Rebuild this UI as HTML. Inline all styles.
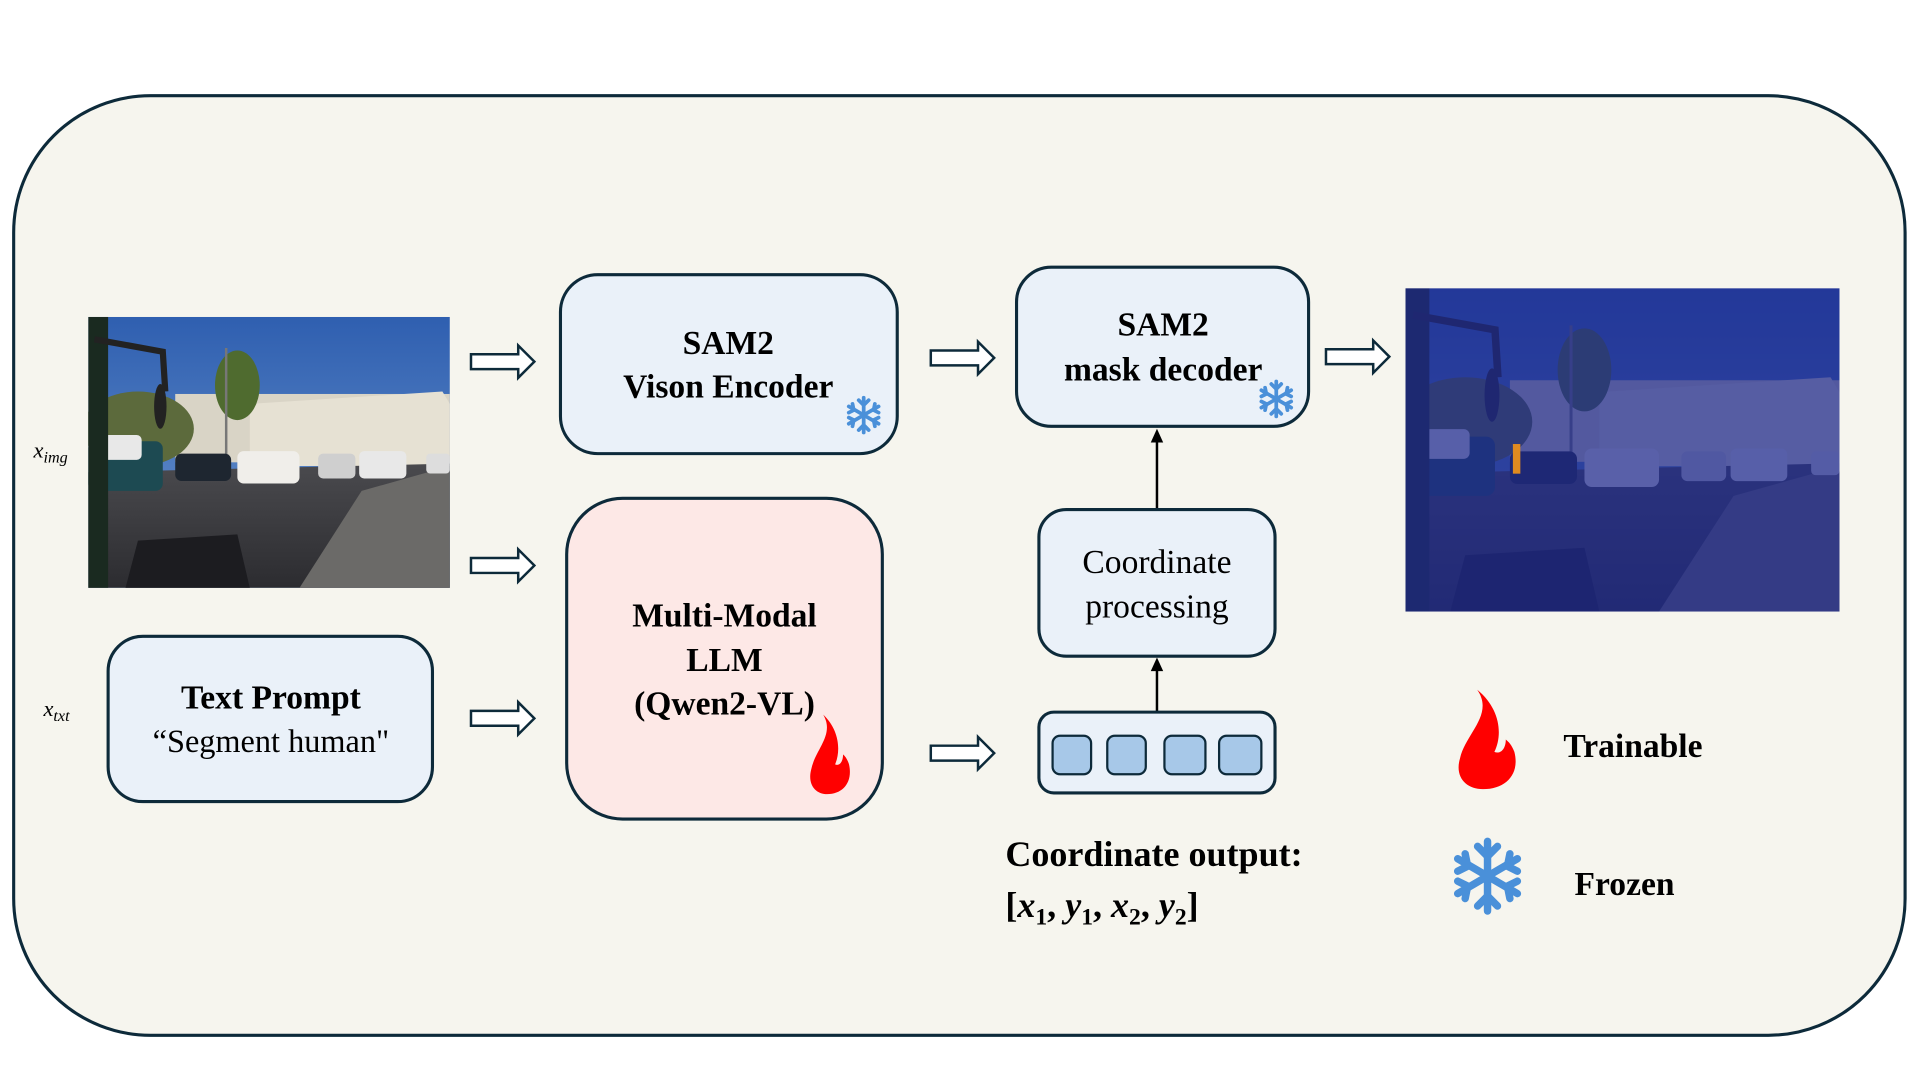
<!DOCTYPE html>
<html><head><meta charset="utf-8"><style>
html,body{margin:0;padding:0;background:#fff;}
svg{display:block;}
text{font-family:"Liberation Serif",serif;fill:#000;}
</style></head><body>
<svg width="1920" height="1080" viewBox="0 0 1545 869" preserveAspectRatio="none" xmlns="http://www.w3.org/2000/svg">
<defs>
<clipPath id="pc"><rect x="0" y="0" width="291" height="218"/></clipPath>
<linearGradient id="sky" x1="0" y1="0" x2="0" y2="1"><stop offset="0" stop-color="#2f5fb0"/><stop offset="1" stop-color="#6d97cf"/></linearGradient>
<linearGradient id="road" x1="0" y1="0" x2="0" y2="1"><stop offset="0" stop-color="#4a4a4e"/><stop offset="1" stop-color="#2c2c30"/></linearGradient>
<g id="photo" clip-path="url(#pc)">
  <rect x="0" y="0" width="291" height="218" fill="url(#sky)"/>
  <rect x="70" y="62" width="221" height="55" fill="#d9d4c6"/>
  <polygon points="130,70 285,60 291,70 291,120 130,120" fill="#e6e1d3"/>
  <ellipse cx="40" cy="90" rx="45" ry="30" fill="#5c6a3c"/>
  <ellipse cx="120" cy="55" rx="18" ry="28" fill="#4f6b2f"/>
  <rect x="110" y="25" width="2" height="90" fill="#777"/>
  <polygon points="0,125 291,118 291,218 0,218" fill="url(#road)"/>
  <polygon points="220,140 291,120 291,218 170,218" fill="#6b6a68"/>
  <rect x="120" y="108" width="50" height="26" rx="5" fill="#f0eeea"/>
  <rect x="70" y="110" width="45" height="22" rx="5" fill="#1e2630"/>
  <rect x="185" y="110" width="30" height="20" rx="4" fill="#cfcfcf"/>
  <rect x="218" y="108" width="38" height="22" rx="4" fill="#e8e8e8"/>
  <rect x="272" y="110" width="19" height="16" rx="3" fill="#ddd"/>
  <rect x="0" y="100" width="60" height="40" rx="6" fill="#1d4a52"/>
  <rect x="8" y="95" width="35" height="20" rx="4" fill="#e8e8e8"/>
  <rect x="0" y="0" width="16" height="218" fill="#1a2a20"/>
  <path d="M5 18 L60 28 L62 60" stroke="#222" stroke-width="5" fill="none"/>
  <ellipse cx="58" cy="72" rx="5" ry="18" fill="#222"/>
  <polygon points="40,180 120,175 130,218 30,218" fill="#1c1c20"/>
</g>
<g id="flake" stroke="#4a90d9" stroke-width="3" stroke-linecap="round" fill="none">
  <line x1="0" y1="-14" x2="0" y2="14"/>
  <line x1="-12" y1="-7" x2="12" y2="7"/>
  <line x1="-12" y1="7" x2="12" y2="-7"/>
  <path d="M-4 -12 L0 -8 L4 -12 M-4 12 L0 8 L4 12"/>
  <path d="M-12 -2 L-8 -4 L-9 -9 M12 2 L8 4 L9 9"/>
  <path d="M12 -2 L8 -4 L9 -9 M-12 2 L-8 4 L-9 9"/>
</g>
<path id="fire" d="M18 0 C30 20 10 35 6 55 C2 70 10 80 22 80 C38 80 48 68 44 50 C42 44 40 42 38 40 C38 48 34 52 30 50 C36 36 34 15 18 0 Z" fill="#ff0000"/>
<polygon id="barrow" points="0,-6 38,-6 38,-13 51,0 38,13 38,6 0,6" fill="#fff" stroke="#0d2a3a" stroke-width="2"/>
</defs>

<rect x="11" y="77" width="1522" height="756" rx="110" ry="110" fill="#f6f5ee" stroke="#0d2a3a" stroke-width="2.5"/>

<g transform="translate(71,255)"><use href="#photo"/></g>
<text x="27" y="368" font-size="18" font-style="italic">x<tspan font-size="13" dy="4">img</tspan></text>
<text x="35" y="576" font-size="18" font-style="italic">x<tspan font-size="13" dy="4">txt</tspan></text>

<use href="#barrow" x="379" y="291"/>
<use href="#barrow" x="379" y="455"/>
<use href="#barrow" x="379" y="578"/>
<use href="#barrow" x="749" y="288"/>
<use href="#barrow" x="749" y="606"/>
<use href="#barrow" x="1067" y="287"/>

<rect x="451" y="221" width="271" height="144" rx="30" fill="#eaf1f9" stroke="#0d2a3a" stroke-width="2.5"/>
<text x="586" y="285" font-size="27" font-weight="bold" text-anchor="middle">SAM2</text>
<text x="586" y="320" font-size="27" font-weight="bold" text-anchor="middle">Vison Encoder</text>
<use href="#flake" x="695" y="334"/>

<rect x="456" y="401" width="254" height="258" rx="45" fill="#fde8e6" stroke="#0d2a3a" stroke-width="2.5"/>
<text x="583" y="504" font-size="27" font-weight="bold" text-anchor="middle">Multi-Modal</text>
<text x="583" y="540" font-size="27" font-weight="bold" text-anchor="middle">LLM</text>
<text x="583" y="575" font-size="27" font-weight="bold" text-anchor="middle">(Qwen2-VL)</text>
<g transform="translate(648,575) scale(0.8)"><use href="#fire"/></g>

<rect x="87" y="512" width="261" height="133" rx="28" fill="#eaf1f9" stroke="#0d2a3a" stroke-width="2.5"/>
<text x="218" y="570" font-size="27" font-weight="bold" text-anchor="middle">Text Prompt</text>
<text x="218" y="605" font-size="26" text-anchor="middle">“Segment human"</text>

<rect x="818" y="215" width="235" height="128" rx="28" fill="#eaf1f9" stroke="#0d2a3a" stroke-width="2.5"/>
<text x="936" y="270" font-size="27" font-weight="bold" text-anchor="middle">SAM2</text>
<text x="936" y="306" font-size="27" font-weight="bold" text-anchor="middle">mask decoder</text>
<use href="#flake" x="1027" y="321"/>

<line x1="931" y1="410" x2="931" y2="354" stroke="#000" stroke-width="2"/>
<polygon points="926,356 936,356 931,345" fill="#000"/>
<line x1="931" y1="573" x2="931" y2="538" stroke="#000" stroke-width="2"/>
<polygon points="926,540 936,540 931,529" fill="#000"/>

<rect x="836" y="410" width="190" height="118" rx="22" fill="#eaf1f9" stroke="#0d2a3a" stroke-width="2.5"/>
<text x="931" y="461" font-size="27" text-anchor="middle">Coordinate</text>
<text x="931" y="497" font-size="27" text-anchor="middle">processing</text>

<rect x="836" y="573" width="190" height="65" rx="12" fill="#eaf1f9" stroke="#0d2a3a" stroke-width="2.5"/>
<rect x="847" y="592" width="31" height="31" rx="6" fill="#a7c8e8" stroke="#0d2a3a" stroke-width="1.8"/>
<rect x="891" y="592" width="31" height="31" rx="6" fill="#a7c8e8" stroke="#0d2a3a" stroke-width="1.8"/>
<rect x="937" y="592" width="33" height="31" rx="6" fill="#a7c8e8" stroke="#0d2a3a" stroke-width="1.8"/>
<rect x="981" y="592" width="34" height="31" rx="6" fill="#a7c8e8" stroke="#0d2a3a" stroke-width="1.8"/>

<text x="809" y="697" font-size="29" font-weight="bold">Coordinate output:</text>
<text x="809" y="738" font-size="29" font-weight="bold">[<tspan font-style="italic">x</tspan><tspan font-size="19" dy="6">1</tspan><tspan dy="-6">, </tspan><tspan font-style="italic">y</tspan><tspan font-size="19" dy="6">1</tspan><tspan dy="-6">, </tspan><tspan font-style="italic">x</tspan><tspan font-size="19" dy="6">2</tspan><tspan dy="-6">, </tspan><tspan font-style="italic">y</tspan><tspan font-size="19" dy="6">2</tspan><tspan dy="-6">]</tspan></text>

<g transform="translate(1131,232) scale(1.2,1.193)"><use href="#photo"/>
<rect x="0" y="0" width="291" height="218" fill="#1e2a90" fill-opacity="0.72"/>
<rect x="72" y="105" width="5" height="20" fill="#e08a20"/></g>

<g transform="translate(1168,555) scale(1.15,1)"><use href="#fire"/></g>
<text x="1258" y="609" font-size="27" font-weight="bold">Trainable</text>
<g transform="translate(1197,705) scale(2)"><use href="#flake"/></g>
<text x="1267" y="720" font-size="27" font-weight="bold">Frozen</text>
</svg>
</body></html>
